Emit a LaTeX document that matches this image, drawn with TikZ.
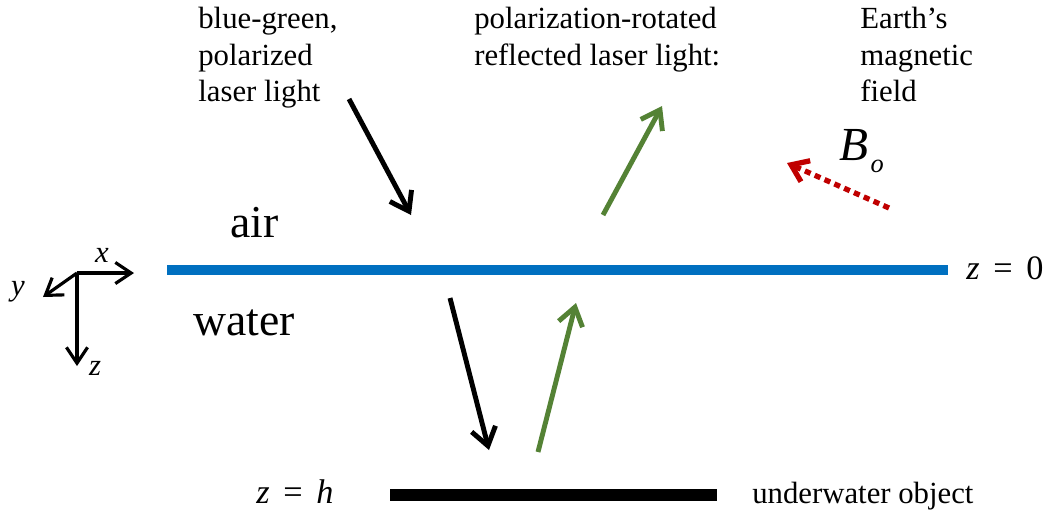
\documentclass[tikz,border=0pt]{standalone}
\usepackage{fontspec}
\setmainfont{LiberationSerif}[Extension=.ttf, UprightFont=*-Regular, ItalicFont=*-Italic,
    BoldFont=*-Bold, BoldItalicFont=*-BoldItalic]
\usetikzlibrary{arrows.meta, positioning}
\definecolor{surfblue}{RGB}{0,112,192}
\definecolor{raygreen}{RGB}{84,130,53}
\definecolor{fieldred}{RGB}{192,0,0}

\begin{document}
\begin{tikzpicture}[
    x=0.02cm, y=-0.02cm,
    every node/.style={inner sep=0pt, font=\fontsize{17.5}{20.7}\selectfont},
    note/.style={align=left, anchor=north west},
    medium/.style={anchor=base west, font=\fontsize{26}{28}\selectfont},
    eqn/.style={anchor=base west, font=\fontsize{19.5}{22}\selectfont},
    ray/.style={line width=2.8pt, -{Straight Barb[length=10pt, width=14pt]}},
    axis/.style={line width=1.8pt, -{Straight Barb[length=9pt, width=12pt]}},
    field/.style={fieldred, line width=3pt, dash pattern=on 3.5pt off 2.6pt,
        -{Straight Barb[length=9pt, width=13pt]}}
]
\useasboundingbox (0,0) rectangle (1044,518);

% labels on top
\node[note] (incident) at (198,7) {blue-green,\\polarized\\laser light};
\node[note] (reflected) at (474,7) {polarization-rotated\\reflected laser light:};
\node[note] (earth) at (860,7) {Earth's\\magnetic\\field};

% media
\node[medium] (air) at (230,237) {air};
\node[medium] (water) at (193,335) {water};

% surface and object
\coordinate (surfL) at (167,270);
\coordinate (surfR) at (948,270);
\draw[surfblue, line width=5.7pt] (surfL) -- (surfR);
\node[eqn] (zzero) at (966,279) {\textit{z}\hspace{0.4em}=\hspace{0.4em}0};

\coordinate (objL) at (390,495);
\coordinate (objR) at (717,495);
\draw[line width=6.8pt] (objL) -- (objR);
\node[eqn] (zh) at (256,503) {\textit{z}\hspace{0.4em}=\hspace{0.4em}\textit{h}};
\node[anchor=base west] (object) at (752,503) {underwater object};

% rays
\coordinate (inA) at (349,99);
\coordinate (inB) at (411,215);
\coordinate (outA) at (603,215);
\coordinate (outB) at (662,106);
\coordinate (downA) at (450,298);
\coordinate (downB) at (489,450);
\coordinate (upA) at (538,452);
\coordinate (upB) at (576,303);
\draw[ray] (inA) -- (inB);
\draw[ray, raygreen] (outA) -- (outB);
\draw[ray] (downA) -- (downB);
\draw[ray, raygreen] (upA) -- (upB);

% magnetic field
\coordinate (fieldA) at (889,208);
\coordinate (fieldB) at (787,163);
\draw[field] (fieldA) -- (fieldB);
\node[anchor=base west, font=\fontsize{27}{28}\selectfont] (bnaught) at (839,160)
    {\textit{B}\hspace{0.05em}\raisebox{-0.27em}{\fontsize{15}{15}\selectfont\textit{o}}};

% axes
\coordinate (orig) at (77,273);
\coordinate (xtip) at (134,273);
\coordinate (ytip) at (43,297);
\coordinate (ztip) at (77,366);
\draw[axis] (orig) -- (xtip);
\draw[axis] (orig) -- (ytip);
\draw[axis] (orig) -- (ztip);
\node (xlbl) at (102,255) {\textit{x}};
\node (ylbl) at (18,292) {\textit{y}};
\node (zlbl) at (95,368) {\textit{z}};
\end{tikzpicture}
\end{document}
